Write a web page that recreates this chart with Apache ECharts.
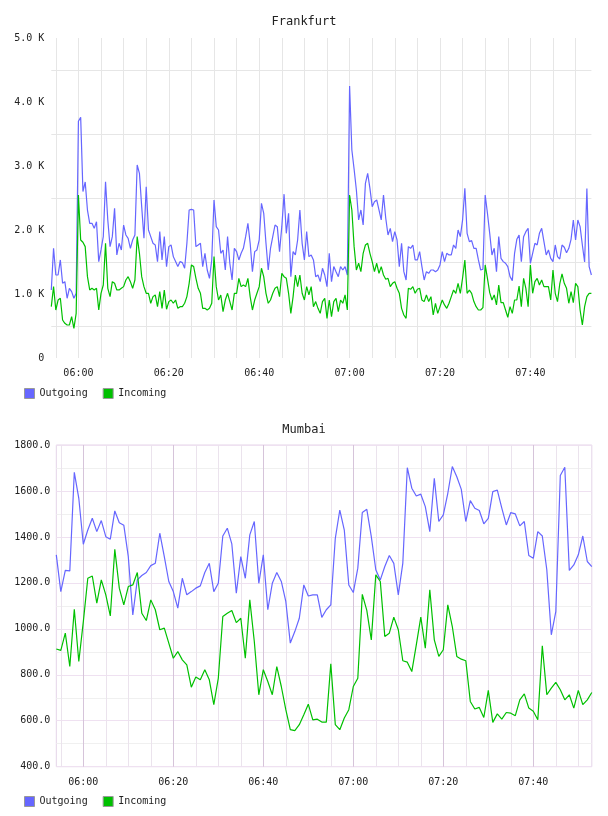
<!DOCTYPE html>
<html>
<head>
<meta charset="utf-8">
<title>Frankfurt / Mumbai</title>
<script src="https://cdn.jsdelivr.net/npm/echarts@6.0.0/dist/echarts.min.js"></script>
<style>
html,body{margin:0;padding:0;background:#fff}
#chart{width:608px;height:816px}
</style>
</head>
<body>
<div id="chart"></div>
<script>
// Frankfurt: one sample every 30 s from 05:54:00
var fraOutgoing = [
    1063,1714,1297,1297,1532,1167,1193,933,1089,1037,
    933,1011,3700,3760,2600,2750,2312,2105,2105,2026,
    2130,1506,1688,1896,2755,2157,1740,1896,2339,1610,
    1792,1688,2078,1922,1870,1714,1844,1922,3016,2886,
    2365,1870,2677,2000,1896,1792,1766,1506,1974,1532,
    1896,1428,1740,1766,1584,1506,1428,1506,1490,1402,
    1792,2313,2323,2313,1740,1766,1792,1428,1636,1375,
    1245,1532,2469,2052,2000,1636,1688,1375,1896,1480,
    1219,1714,1662,1532,1636,1714,1896,2105,1792,1349,
    1662,1688,1844,2417,2261,1792,1375,1714,1896,2078,
    2052,1662,2052,2560,1948,2261,1271,1662,1610,1844,
    2313,1792,1532,1974,1584,1610,1532,1271,1297,1193,
    1402,1297,1115,1636,1193,1428,1349,1271,1428,1375,
    1428,1297,4250,3250,2950,2625,2157,2313,2078,2729,
    2886,2651,2365,2443,2469,2313,2157,2547,2183,1922,
    2026,1818,1974,1844,1428,1792,1349,1219,1740,1714,
    1766,1532,1532,1662,1428,1219,1349,1323,1375,1375,
    1349,1375,1454,1662,1506,1636,1610,1610,1766,1714,
    2000,1896,2157,2651,1948,1818,1834,1714,1714,1532,
    1375,1386,2547,2261,1948,1610,1714,1349,1896,1558,
    1506,1480,1428,1271,1209,1636,1855,1922,1506,1896,
    1974,2026,1480,1636,1792,1766,1948,2026,1818,1610,
    1688,1558,1506,1766,1584,1547,1766,1730,1646,1714,
    1855,2157,1844,2157,2052,1766,1500,2650,1428,1297
];
var fraIncoming = [
    802,1115,750,906,933,594,542,516,516,646,
    464,698,2547,1844,1808,1740,1271,1063,1089,1063,
    1089,750,1011,1141,1792,1089,959,1193,1167,1063,
    1063,1089,1115,1219,1271,1193,1089,1219,1896,1636,
    1271,1115,1011,1011,855,959,985,802,1037,776,
    1063,761,881,906,855,906,776,802,802,855,
    959,1167,1454,1428,1245,1089,1011,776,776,750,
    776,855,1584,1115,906,985,724,906,1011,881,
    750,1011,1011,1245,1115,1141,1115,1245,959,750,
    906,1011,1115,1402,1271,1011,855,906,1011,1089,
    1115,959,1323,1271,1245,1011,698,959,1297,1115,
    1297,1011,906,1115,985,1115,802,881,776,698,
    881,933,620,906,646,881,933,724,906,855,
    985,750,2547,2313,1740,1375,1480,1349,1636,1766,
    1792,1636,1506,1349,1480,1323,1428,1297,1230,1245,
    1115,1167,1193,1089,1011,776,672,620,1089,1073,
    1115,1011,1073,1089,906,881,985,881,959,672,
    855,698,802,906,829,776,855,959,1063,1011,
    1167,1011,1250,1532,1011,1063,1011,881,802,750,
    750,787,1454,1245,1021,906,985,829,1141,865,
    865,750,636,802,698,906,906,1125,802,1245,
    1089,802,1454,1011,1193,1245,1141,1219,1115,1115,
    1115,906,1375,1011,881,1157,1313,1167,1089,855,
    1037,865,1167,1115,750,516,802,959,1011,1011
];

// Mumbai: one sample a minute from 05:54
var mumOutgoing = [
    1322,1162,1254,1252,1681,1568,1368,1430,1481,1423,
    1471,1401,1390,1513,1462,1451,1314,1060,1213,1232,
    1245,1275,1285,1416,1314,1206,1162,1090,1220,1148,
    1162,1177,1187,1245,1285,1162,1198,1404,1438,1370,
    1155,1314,1220,1409,1467,1198,1322,1083,1198,1245,
    1206,1119,938,988,1046,1191,1143,1148,1148,1050,
    1083,1104,1394,1517,1430,1191,1158,1264,1506,1520,
    1401,1257,1213,1271,1319,1285,1148,1285,1701,1612,
    1578,1586,1532,1423,1655,1467,1496,1590,1706,1662,
    1607,1467,1558,1525,1515,1457,1481,1597,1604,1525,
    1452,1506,1500,1448,1467,1319,1307,1423,1404,1257,
    974,1075,1667,1703,1254,1278,1322,1404,1293,1271
];
var mumIncoming = [
    912,906,981,836,1085,858,1030,1220,1230,1112,
    1213,1148,1056,1346,1177,1104,1184,1191,1245,1068,
    1036,1126,1083,996,1003,938,872,901,865,843,
    746,790,778,822,778,670,785,1054,1068,1080,
    1027,1046,872,1126,945,713,822,771,713,836,
    749,648,561,557,583,626,672,604,607,594,
    594,848,583,561,612,648,749,785,1150,1080,
    952,1235,1206,967,981,1051,996,861,855,814,
    930,1051,916,1170,952,880,909,1104,1010,880,
    868,861,684,651,658,614,732,593,630,607,
    636,633,622,691,717,655,641,604,926,713,
    742,767,735,691,713,655,732,670,691,723
];

var seriesNames = ['Outgoing', 'Incoming'];
var BLUE = '#6666ff', GREEN = '#00c000';
var FONT = 'DejaVu Sans Mono';

function pad(n){ return (n < 10 ? '0' : '') + n; }
function timeLabels(startMin, stepSec, count, withSec){
    var out = [];
    for (var i = 0; i < count; i++) {
        var s = startMin * 60 + i * stepSec;
        var t = pad(Math.floor(s / 3600)) + ':' + pad(Math.floor(s / 60) % 60);
        if (withSec) t += ':' + pad(s % 60);
        out.push(t);
    }
    return out;
}
var fraTimes = timeLabels(5 * 60 + 54, 30, fraOutgoing.length, true);
var mumTimes = timeLabels(5 * 60 + 54, 60, mumOutgoing.length, false);

function every(mins){
    return function(idx, val){
        if (val.length > 5 && val.slice(6) !== '00') return false;
        return (+val.slice(3, 5)) % mins === 0;
    };
}

var labelStyle = {fontFamily: FONT, fontSize: 10, color: '#222'};
var titleStyle = {fontFamily: FONT, fontSize: 12, fontWeight: 'normal', color: '#222'};
var legendBase = {
    data: seriesNames, left: 19, icon: 'rect', itemWidth: 10, itemHeight: 10, itemGap: 15,
    textStyle: {fontFamily: FONT, fontSize: 10, color: '#222'},
    itemStyle: {borderColor: '#999', borderWidth: 1}
};

var option = {
    animation: false,
    textStyle: {fontFamily: FONT},
    title: [
        {text: 'Frankfurt', left: 'center', top: 11, textStyle: titleStyle},
        {text: 'Mumbai', left: 'center', top: 419, textStyle: titleStyle}
    ],
    legend: [
        echarts.util.extend({top: 383}, legendBase),
        echarts.util.extend({top: 791}, legendBase)
    ],
    grid: [
        {left: 51.3, right: 16.6, top: 38, height: 320},
        {left: 56.3, right: 16.2, top: 445, height: 321.7, show: true, borderColor: '#e4d4e8', borderWidth: 1}
    ],
    xAxis: [
        {
            gridIndex: 0, type: 'category', data: fraTimes, boundaryGap: false,
            axisLine: {show: false}, axisTick: {show: false},
            axisLabel: echarts.util.extend({interval: every(20), margin: 10, formatter: function(v){ return v.slice(0, 5); }}, labelStyle),
            splitLine: {show: true, interval: every(5), lineStyle: {color: '#e6e6e6'}}
        },
        {
            gridIndex: 1, type: 'category', data: mumTimes, boundaryGap: false, position: 'top',
            axisLine: {show: false}, axisTick: {show: false}, axisLabel: {show: false},
            splitLine: {show: true, interval: every(5), lineStyle: {color: '#ebe3ed'}}
        },
        {
            gridIndex: 1, type: 'category', data: mumTimes, boundaryGap: false, position: 'bottom',
            axisLine: {show: false}, axisTick: {show: false},
            axisLabel: echarts.util.extend({interval: every(20), margin: 11}, labelStyle),
            splitLine: {show: true, interval: every(20), lineStyle: {color: '#d6c4da'}}
        }
    ],
    yAxis: [
        {
            gridIndex: 0, type: 'value', min: 0, max: 5000, interval: 1000,
            axisLine: {show: false}, axisTick: {show: false},
            axisLabel: echarts.util.extend({margin: 7, formatter: function(v){ return v === 0 ? '0' : (v / 1000).toFixed(1) + ' K'; }}, labelStyle),
            splitLine: {show: false},
            minorTick: {show: false, splitNumber: 2},
            minorSplitLine: {show: true, lineStyle: {color: '#e6e6e6'}}
        },
        {
            gridIndex: 1, type: 'value', min: 400, max: 1800, interval: 200,
            axisLine: {show: false}, axisTick: {show: false},
            axisLabel: echarts.util.extend({margin: 6, formatter: function(v){ return v.toFixed(1); }}, labelStyle),
            splitLine: {show: true, lineStyle: {color: '#efe1f1'}},
            minorTick: {show: false, splitNumber: 2},
            minorSplitLine: {show: true, lineStyle: {color: '#f0f0f0'}}
        }
    ],
    series: [
        {name: 'Outgoing', type: 'line', xAxisIndex: 0, yAxisIndex: 0, data: fraOutgoing, showSymbol: false, symbol: 'none',
         lineStyle: {width: 1.2, color: BLUE}, itemStyle: {color: BLUE}},
        {name: 'Incoming', type: 'line', xAxisIndex: 0, yAxisIndex: 0, data: fraIncoming, showSymbol: false, symbol: 'none',
         lineStyle: {width: 1.2, color: GREEN}, itemStyle: {color: GREEN}},
        {name: 'Outgoing', type: 'line', xAxisIndex: 2, yAxisIndex: 1, data: mumOutgoing, showSymbol: false, symbol: 'none',
         lineStyle: {width: 1.2, color: BLUE}, itemStyle: {color: BLUE}},
        {name: 'Incoming', type: 'line', xAxisIndex: 2, yAxisIndex: 1, data: mumIncoming, showSymbol: false, symbol: 'none',
         lineStyle: {width: 1.2, color: GREEN}, itemStyle: {color: GREEN}}
    ]
};

var myChart = echarts.init(document.getElementById('chart'));
myChart.setOption(option);
</script>
</body>
</html>
